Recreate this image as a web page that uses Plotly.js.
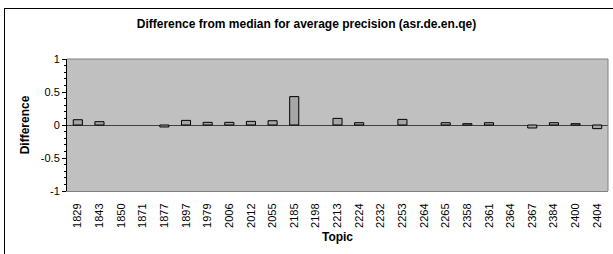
<!DOCTYPE html>
<html>
<head>
<meta charset="utf-8">
<script src="https://cdn.plot.ly/plotly-3.0.1.min.js"></script>
<style>
html,body{margin:0;padding:0;overflow:hidden;background:#fff;}
#frame{position:absolute;left:4px;top:8px;width:700px;height:400px;border:1px solid #000;pointer-events:none;z-index:5;}
#chart{position:absolute;left:0;top:0;width:613px;height:254px;}
</style>
</head>
<body>
<div id="chart"></div>
<div id="frame"></div>
<script>
const topicList = ["1829","1843","1850","1871","1877","1897","1979","2006","2012","2055","2185","2198","2213","2224","2232","2253","2264","2265","2358","2361","2364","2367","2384","2400","2404"];
const differences = [0.08,0.05,0,0,-0.03,0.07,0.04,0.04,0.055,0.065,0.43,0,0.1,0.035,0,0.085,0,0.035,0.02,0.035,0,-0.045,0.035,0.02,-0.055];
const yTicks = [-1,-0.5,0,0.5,1];
const yTickText = ["-1","-0.5","0","0.5","1"];

Plotly.newPlot('chart', [{
  type:'bar',
  x: topicList,
  y: differences,
  marker:{color:'#a6a6a6', line:{color:'#000', width:differences.map(v => v === 0 ? 0 : 1)}},
  hoverinfo:'skip'
}], {
  width:613, height:254,
  margin:{l:67, r:5, t:59, b:63},
  paper_bgcolor:'#fff',
  plot_bgcolor:'#c0c0c0',
  bargap:0.58,
  showlegend:false,
  title:{text:'<b>Difference from median for average precision (asr.de.en.qe)</b>', font:{family:'Arial, Liberation Sans', size:12, color:'#000'}, x:0.5, xanchor:'center', xref:'container', y:0.905, yref:'container', yanchor:'middle'},
  xaxis:{
    type:'category',
    tickangle:-90,
    tickfont:{family:'Arial, Liberation Sans', size:11, color:'#000'},
    showgrid:false, zeroline:false,
    showline:true, linecolor:'#808080', linewidth:1, mirror:false,
    ticks:'outside', ticklen:7, tickcolor:'rgba(0,0,0,0)',
    title:{text:'<b>Topic</b>', font:{family:'Arial, Liberation Sans', size:12, color:'#000'}, standoff:5},
    automargin:false
  },
  yaxis:{
    range:[-1,1],
    tickvals:yTicks, ticktext:yTickText,
    tickfont:{family:'Arial, Liberation Sans', size:11, color:'#000'},
    showgrid:false,
    zeroline:true, zerolinecolor:'#404040', zerolinewidth:1,
    showline:true, linecolor:'#000', linewidth:1,
    ticks:'outside', ticklen:4, tickcolor:'#000',
    minor:{dtick:0.1, ticks:'outside', ticklen:2, tickcolor:'#000', showgrid:false},
    title:{text:'<b>Difference</b>', font:{family:'Arial, Liberation Sans', size:12, color:'#000'}, standoff:8},
    automargin:false
  },
  shapes:[
    {type:'line', xref:'paper', yref:'paper', x0:0, x1:1, y0:1, y1:1, line:{color:'#808080', width:1}},
    {type:'line', xref:'paper', yref:'paper', x0:1, x1:1, y0:0, y1:1, line:{color:'#808080', width:1}}
  ]
}, {staticPlot:true});
</script>
</body>
</html>
